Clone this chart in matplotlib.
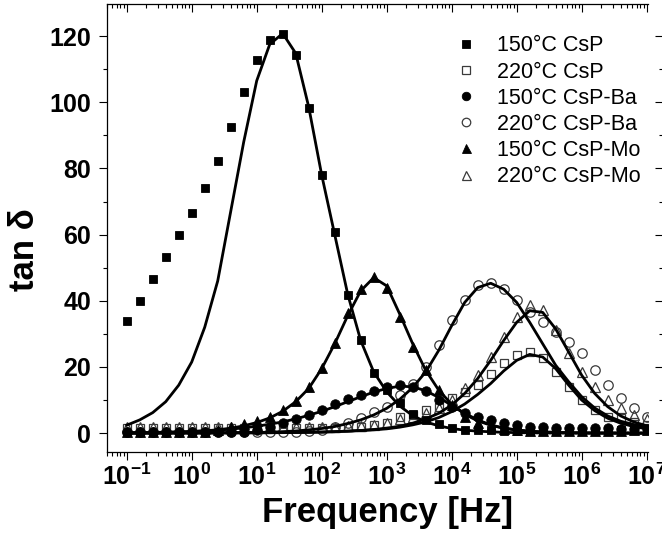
import numpy as np
import matplotlib
matplotlib.use("Agg")
import matplotlib.pyplot as plt
from matplotlib.ticker import FixedLocator, FixedFormatter, NullFormatter, LogLocator

plt.rcParams['font.family'] = ['Liberation Sans', 'DejaVu Sans']
plt.rcParams['mathtext.fontset'] = 'custom'
plt.rcParams['mathtext.rm'] = 'Liberation Sans'
plt.rcParams['mathtext.bf'] = 'Liberation Sans:bold'
plt.rcParams['mathtext.it'] = 'Liberation Sans:italic'
plt.rcParams['mathtext.default'] = 'bf'

# ---- data: log10(frequency) grid, 5 points per decade from 1e-1 to 1e7 ----
log_freq = np.round(np.arange(-1.0, 7.001, 0.2), 1)
freq = 10.0 ** log_freq

labels = ["150°C CsP", "220°C CsP", "150°C CsP-Ba", "220°C CsP-Ba", "150°C CsP-Mo", "220°C CsP-Mo"]

csp150 = [33.9, 40.0, 46.5, 53.2, 59.8, 66.6, 74.2, 82.4, 92.5, 103.1, 112.7, 118.7, 120.6, 114.2,
          98.3, 77.9, 60.7, 41.9, 28.0, 18.2, 13.0, 9.0, 5.8, 4.0, 2.8, 1.5, 1.1, 0.9, 0.8, 0.7,
          0.6, 0.6, 0.6, 0.6, 0.6, 0.6, 0.7, 0.8, 0.9, 1.1, 1.4]
csp220 = [1.5, 1.5, 1.5, 1.5, 1.5, 1.5, 1.5, 1.5, 1.5, 1.5, 1.5, 1.5, 1.5, 1.5,
          1.5, 1.5, 1.6, 1.8, 2.0, 2.4, 3.2, 4.9, 5.4, 7.0, 8.0, 10.5, 12.5, 14.5, 18.0, 21.1,
          23.6, 24.6, 22.6, 18.5, 14.0, 10.0, 7.0, 4.9, 4.5, 3.4, 2.4]
ba150 = [0.2, 0.2, 0.2, 0.2, 0.2, 0.2, 0.2, 0.2, 0.2, 0.3, 0.8, 2.0, 3.0, 4.2,
         5.4, 7.0, 8.8, 10.2, 11.5, 12.8, 13.8, 14.5, 14.0, 12.7, 10.0, 7.8, 6.2, 4.9, 3.9, 3.0,
         2.4, 2.0, 1.8, 1.7, 1.6, 1.6, 1.5, 1.5, 1.4, 1.4, 1.4]
ba220 = [0.2, 0.2, 0.2, 0.2, 0.2, 0.2, 0.2, 0.2, 0.2, 0.2, 0.2, 0.2, 0.2, 0.4,
         0.7, 1.1, 1.9, 3.2, 4.7, 6.4, 8.0, 11.5, 15.0, 20.0, 26.6, 34.2, 40.2, 44.7, 45.4, 43.7,
         40.2, 36.7, 33.6, 30.6, 27.6, 24.1, 19.0, 14.5, 10.5, 7.5, 4.9]
mo150 = [0.3, 0.3, 0.3, 0.3, 0.3, 0.3, 0.3, 1.0, 1.9, 2.9, 3.7, 4.9, 7.0, 9.8,
         14.0, 19.6, 27.1, 36.4, 43.7, 47.3, 44.0, 35.2, 26.1, 19.0, 13.0, 8.5, 5.0, 3.0, 1.8, 1.2,
         0.9, 0.7, 0.7, 0.7, 0.7, 0.7, 0.7, 0.7, 0.7, 0.8, 0.8]
mo220 = [1.8, 1.8, 1.8, 1.8, 1.8, 1.8, 1.8, 1.8, 1.8, 1.8, 1.8, 1.8, 1.8, 1.8,
         1.8, 1.8, 1.9, 2.1, 2.3, 2.6, 3.0, 4.2, 5.0, 6.0, 7.5, 10.0, 13.5, 17.5, 23.1, 29.1,
         35.2, 38.7, 37.2, 31.1, 24.1, 18.5, 14.0, 10.0, 7.5, 5.4, 4.4]

# fitted curves read at the same frequencies
fit_csp150 = [2.4, 4.0, 6.2, 9.5, 14.5, 21.5, 32.0, 46.0, 67.0, 88.0, 106.5, 117.5, 120.8, 114.8,
              98.6, 78.0, 60.0, 42.0, 28.0, 18.5, 12.5, 8.2, 5.3, 3.4, 2.2, 1.4, 0.9, 0.6, 0.4, 0.25,
              0.15, 0.1, 0.05, 0.03, 0.02, 0.01, 0.0, 0.0, 0.0, 0.0, 0.0]
fit_csp220 = [0.02, 0.02, 0.03, 0.03, 0.04, 0.05, 0.06, 0.07, 0.08, 0.09, 0.1, 0.12, 0.15, 0.2,
              0.27, 0.35, 0.45, 0.6, 0.8, 1.0, 1.3, 1.8, 2.5, 3.4, 4.7, 6.5, 8.8, 11.7, 15.0, 18.8,
              22.0, 23.8, 23.0, 19.5, 14.5, 10.0, 6.8, 4.5, 3.0, 2.0, 1.3]
fit_ba150 = [0.1, 0.15, 0.2, 0.3, 0.4, 0.5, 0.7, 0.9, 1.2, 1.6, 2.1, 2.7, 3.4, 4.3,
             5.4, 6.6, 8.0, 9.5, 11.0, 12.4, 13.5, 14.2, 14.0, 12.8, 10.8, 8.4, 6.0, 4.0, 2.5, 1.5,
             0.9, 0.5, 0.3, 0.15, 0.1, 0.05, 0.03, 0.02, 0.01, 0.0, 0.0]
fit_ba220 = [0.05, 0.05, 0.06, 0.07, 0.08, 0.09, 0.1, 0.12, 0.14, 0.17, 0.2, 0.3, 0.45, 0.65,
             1.0, 1.4, 2.0, 2.9, 4.0, 5.5, 7.5, 10.2, 13.8, 18.5, 25.0, 32.5, 39.5, 44.0, 45.3, 43.5,
             39.5, 33.5, 27.0, 20.5, 15.5, 11.0, 7.6, 5.2, 3.6, 2.6, 1.9]
fit_mo150 = [0.05, 0.1, 0.15, 0.2, 0.3, 0.45, 0.7, 1.0, 1.5, 2.2, 3.2, 4.6, 6.6, 9.5,
             13.5, 19.5, 27.0, 35.5, 43.0, 47.0, 44.5, 36.0, 27.0, 19.0, 13.0, 8.7, 5.7, 3.7, 2.4, 1.5,
             1.0, 0.6, 0.4, 0.25, 0.15, 0.1, 0.05, 0.04, 0.03, 0.02, 0.02]
fit_mo220 = [0.02, 0.02, 0.03, 0.03, 0.04, 0.05, 0.06, 0.07, 0.08, 0.1, 0.12, 0.14, 0.17, 0.2,
             0.25, 0.3, 0.45, 0.6, 0.8, 1.1, 1.5, 2.1, 3.0, 4.3, 6.0, 8.5, 12.0, 16.5, 22.0, 28.0,
             33.5, 37.0, 36.5, 31.5, 24.5, 17.5, 12.0, 8.0, 5.2, 3.4, 2.2]

x_tick_exponents = [-1, 0, 1, 2, 3, 4, 5, 6, 7]
x_tick_labels = [r"$\mathbf{10^{%d}}$" % e for e in x_tick_exponents]
y_ticks = [0, 20, 40, 60, 80, 100, 120]
y_minor_ticks = [10, 30, 50, 70, 90, 110]

# ---- figure ----
fig = plt.figure(figsize=(6.62, 5.46), dpi=100)
ax = fig.add_axes([106.7 / 662, 1 - 452 / 546, (648 - 106.7) / 662, (452 - 4) / 546])

edge_open = '#3a3a3a'
ms_sq, ms_ci, ms_tr = 6.3, 6.8, 7.2
series = [
    (csp150, 's', True, ms_sq),
    (csp220, 's', False, ms_sq),
    (ba150, 'o', True, ms_ci),
    (ba220, 'o', False, ms_ci),
    (mo150, '^', True, ms_tr),
    (mo220, '^', False, ms_tr),
]
draw_order = [1, 5, 3, 0, 2, 4]
handles = [None] * 6
for i in draw_order:
    vals, mk, filled, ms = series[i]
    if filled:
        h, = ax.plot(freq, vals, linestyle='none', marker=mk, markersize=ms,
                     markerfacecolor='black', markeredgecolor='black', markeredgewidth=0.6,
                     label=labels[i], zorder=3)
    else:
        h, = ax.plot(freq, vals, linestyle='none', marker=mk, markersize=ms,
                     markerfacecolor='none', markeredgecolor=edge_open, markeredgewidth=0.9,
                     label=labels[i], zorder=2)
    handles[i] = h

for fit in [fit_csp150, fit_csp220, fit_ba150, fit_ba220, fit_mo150, fit_mo220]:
    ax.plot(freq, fit, color='black', linewidth=2.0, zorder=4, solid_joinstyle='round')

ax.set_xscale('log')
ax.set_xlim(10 ** -1.308, 10 ** 7.02)
ax.set_ylim(-5.7, 129.7)

ax.xaxis.set_major_locator(FixedLocator([10.0 ** e for e in x_tick_exponents]))
ax.xaxis.set_major_formatter(FixedFormatter(x_tick_labels))
ax.xaxis.set_minor_locator(LogLocator(base=10, subs=np.arange(2, 10), numticks=40))
ax.xaxis.set_minor_formatter(NullFormatter())
ax.yaxis.set_major_locator(FixedLocator(y_ticks))
ax.yaxis.set_minor_locator(FixedLocator(y_minor_ticks))

ax.tick_params(axis='both', which='major', direction='out', length=5.8, width=0.8,
               labelsize=18, top=False, right=False)
ax.tick_params(axis='both', which='minor', direction='out', length=3.0, width=0.8,
               top=False, right=False)
ax.tick_params(axis='x', which='major', pad=2.5)
ax.tick_params(axis='y', which='major', pad=5.5)
for lab in ax.get_yticklabels():
    lab.set_fontweight('bold')

ax.spines['right'].set_visible(False)
for s in ['left', 'top', 'bottom']:
    ax.spines[s].set_linewidth(0.9)

# top inward ticks
axt = ax.twiny()
axt.set_xscale('log')
axt.set_xlim(ax.get_xlim())
axt.xaxis.set_major_locator(FixedLocator([10.0 ** e for e in x_tick_exponents]))
axt.xaxis.set_minor_locator(LogLocator(base=10, subs=np.arange(2, 10), numticks=40))
axt.xaxis.set_major_formatter(NullFormatter())
axt.xaxis.set_minor_formatter(NullFormatter())
axt.tick_params(axis='x', which='major', direction='in', length=5.8, width=0.8)
axt.tick_params(axis='x', which='minor', direction='in', length=2.6, width=0.8)
for s in axt.spines.values():
    s.set_visible(False)

# right inward ticks (spine lies just beyond the picture edge)
axr = ax.twinx()
axr.set_ylim(ax.get_ylim())
axr.yaxis.set_major_locator(FixedLocator(y_ticks))
axr.yaxis.set_minor_locator(FixedLocator(y_minor_ticks))
axr.yaxis.set_major_formatter(NullFormatter())
axr.spines['right'].set_position(('outward', 11))
for s in axr.spines.values():
    s.set_visible(False)
axr.tick_params(axis='y', which='major', direction='in', length=5.8, width=0.8)
axr.tick_params(axis='y', which='minor', direction='in', length=2.8, width=0.8)

ax.set_xlabel('Frequency [Hz]', fontsize=25, fontweight='bold')
ax.xaxis.set_label_coords(0.518, -0.134)
ax.xaxis.label.set_va('center')
ax.set_ylabel('tan δ', fontsize=25, fontweight='bold')
ax.yaxis.set_label_coords(-0.151, 0.452)
ax.yaxis.label.set_va('center')

leg = ax.legend(handles=handles, labels=labels, loc='upper left',
                bbox_to_anchor=(0.643, 0.93), frameon=False, fontsize=15.5,
                handlelength=1.0, handletextpad=0.95, labelspacing=0.24,
                borderpad=0.0, borderaxespad=0.0, markerscale=0.9, numpoints=1)
leg.set_zorder(10)

fig.savefig('out.png', dpi=100)
